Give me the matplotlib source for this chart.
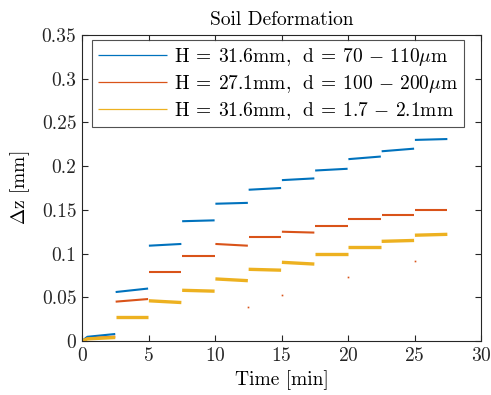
import matplotlib
matplotlib.use('Agg')
import matplotlib.pyplot as plt

plt.rcParams['font.family'] = 'serif'
plt.rcParams['font.serif'] = ['cmr10']
plt.rcParams['mathtext.fontset'] = 'cm'
plt.rcParams['axes.formatter.use_mathtext'] = True

# segment start times [min], each load step lasts 2.5 min
seg_start = [0, 2.5, 5, 7.5, 10, 12.5, 15, 17.5, 20, 22.5, 25]
seg_len = 2.5

# deformation at start / end of each step [mm]
blue_start = [0.000, 0.056, 0.109, 0.137, 0.157, 0.173, 0.184, 0.195, 0.208, 0.217, 0.230]
blue_end = [0.008, 0.060, 0.111, 0.138, 0.158, 0.175, 0.186, 0.197, 0.211, 0.220, 0.231]
orange_start = [0.000, 0.045, 0.079, 0.097, 0.111, 0.119, 0.125, 0.132, 0.140, 0.144, 0.150]
orange_end = [0.005, 0.048, 0.079, 0.097, 0.109, 0.119, 0.124, 0.132, 0.140, 0.144, 0.150]
yellow_start = [0.000, 0.027, 0.046, 0.058, 0.071, 0.082, 0.090, 0.099, 0.108, 0.114, 0.121]
yellow_end = [0.004, 0.027, 0.044, 0.057, 0.069, 0.081, 0.088, 0.099, 0.108, 0.115, 0.122]

# stray orange samples between steps
stray_t = [12.45, 15.0, 20.0, 25.0]
stray_z = [0.039, 0.053, 0.073, 0.091]

labels = [r'$\mathrm{H}\:=\:31.6\mathrm{mm},\ \,\mathrm{d}\:=\:70\,-\,110\mu\mathrm{m}$',
          r'$\mathrm{H}\:=\:27.1\mathrm{mm},\ \,\mathrm{d}\:=\:100\,-\,200\mu\mathrm{m}$',
          r'$\mathrm{H}\:=\:31.6\mathrm{mm},\ \,\mathrm{d}\:=\:1.7\,-\,2.1\mathrm{mm}$']
colors = ['#0072BD', '#D95319', '#EDB120']
widths = [1.5, 1.5, 2.4]

fig = plt.figure(figsize=(4.91, 3.95), dpi=100)
ax = fig.add_axes([82 / 491, 1 - 341 / 395, 399 / 491, 306 / 395])

series = [(blue_start, blue_end), (orange_start, orange_end), (yellow_start, yellow_end)]
for (zs, ze), c, lw, lab in zip(series, colors, widths, labels):
    for i, t0 in enumerate(seg_start):
        if i == 0:
            ts = [t0, t0 + 0.4, t0 + seg_len]
            zz = [zs[i], ze[i] * 0.6, ze[i]]
        else:
            ts = [t0 + 0.03, t0 + seg_len - 0.03]
            zz = [zs[i], ze[i]]
        ax.plot(ts, zz, color=c, lw=lw, solid_capstyle='butt',
                label=lab if i == 0 else None)
ax.plot(stray_t, stray_z, ls='none', marker='s', ms=1.2, mec='none', color=colors[1])

leg = ax.legend(loc='upper left', bbox_to_anchor=(0.026, 0.983), fontsize=14,
                frameon=True, fancybox=False, edgecolor='#262626',
                handlelength=3.55, borderpad=0.3, labelspacing=0.25, handletextpad=0.35,
                borderaxespad=0)
leg.get_frame().set_linewidth(0.8)
for h in leg.get_lines():
    h.set_linewidth(0.9)

ax.set_xlim(0, 30)
ax.set_ylim(0, 0.35)
ax.set_xticks([0, 5, 10, 15, 20, 25, 30])
ax.set_yticks([0, 0.05, 0.1, 0.15, 0.2, 0.25, 0.3, 0.35])
ax.set_yticklabels(['0', '0.05', '0.1', '0.15', '0.2', '0.25', '0.3', '0.35'])
ax.tick_params(direction='in', top=True, right=True, length=4, width=0.8,
               labelsize=14, colors='#262626', pad=4)
for s in ax.spines.values():
    s.set_linewidth(0.8)
    s.set_color('#262626')
ax.set_xlabel('Time [min]', fontsize=14, labelpad=4)
ax.set_ylabel(r'$\Delta$z [mm]', fontsize=14, labelpad=7)
ax.set_title('Soil Deformation', fontsize=14, pad=7)

fig.savefig('out.png', dpi=100)
